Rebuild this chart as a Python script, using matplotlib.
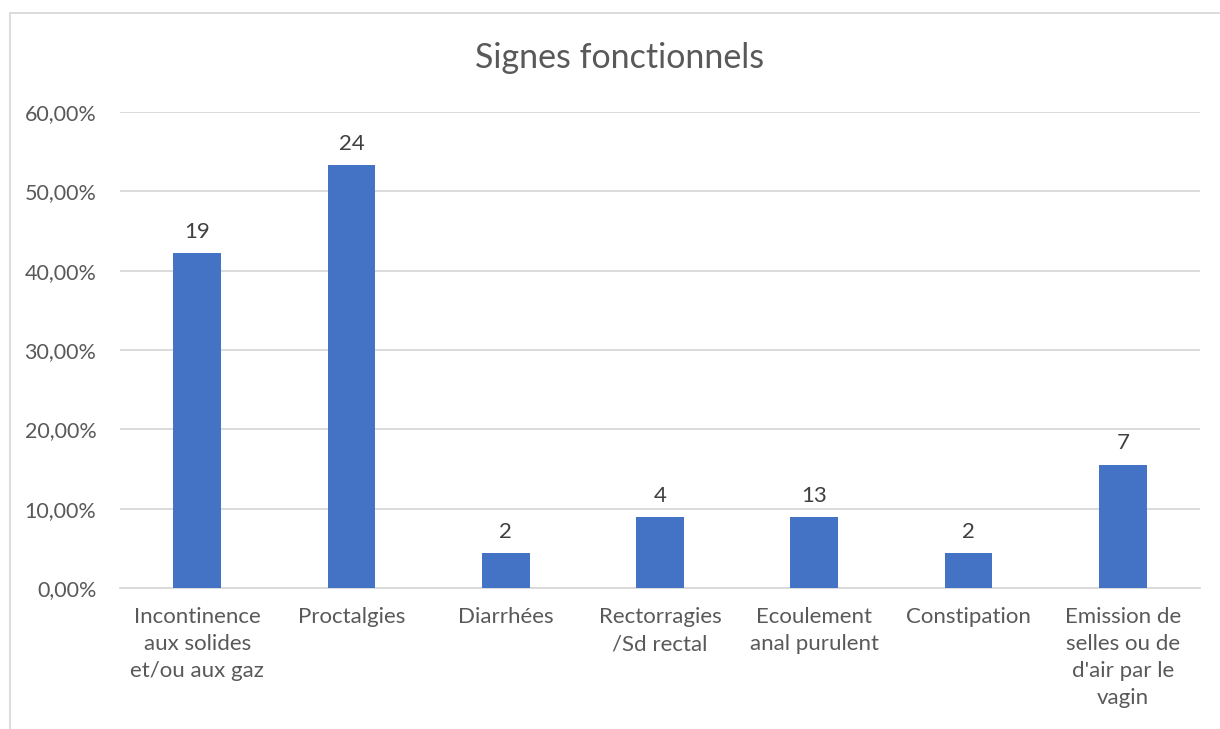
import matplotlib.pyplot as plt
from matplotlib.patches import Rectangle
from matplotlib.ticker import FuncFormatter

categories = [
    "Incontinence\naux solides\net/ou aux gaz",
    "Proctalgies",
    "Diarrhées",
    "Rectorragies\n/Sd rectal",
    "Ecoulement\nanal purulent",
    "Constipation",
    "Emission de\nselles ou de\nd'air par le\nvagin",
]
percentages = [42.22, 53.33, 4.44, 8.89, 8.89, 4.44, 15.56]
counts = [19, 24, 2, 4, 13, 2, 7]

plt.rcParams['font.family'] = ['Lato', 'DejaVu Sans']
text_color = '#595959'
grid_color = '#d9d9d9'

fig = plt.figure(figsize=(12.2, 7.29), dpi=100)
ax = fig.add_axes([120 / 1220, 141 / 729, 1080 / 1220, 476 / 729])

x = range(len(categories))
ax.bar(x, percentages, width=0.31, color='#4472C4', zorder=3)

for xi, p, c in zip(x, percentages, counts):
    ax.annotate(str(c), (xi, p), xytext=(0, 8), textcoords='offset points',
                ha='center', va='bottom', fontsize=16, color='#404040')

ax.set_xlim(-0.5, len(categories) - 0.5)
ax.set_ylim(0, 60)
ax.set_yticks(range(0, 61, 10))
ax.yaxis.set_major_formatter(FuncFormatter(lambda v, _: f"{v:.2f}%".replace('.', ',')))
ax.set_xticks(list(x))
ax.set_xticklabels(categories, linespacing=1.42)
ax.tick_params(axis='both', length=0, labelsize=16, labelcolor=text_color)
ax.tick_params(axis='x', pad=14)
ax.tick_params(axis='y', labelsize=15.5, pad=17)

ax.grid(axis='y', color=grid_color, linewidth=1.3, zorder=0)
for side in ['top', 'right', 'left']:
    ax.spines[side].set_visible(False)
ax.spines['bottom'].set_color(grid_color)
ax.spines['bottom'].set_linewidth(1.3)

fig.text(620 / 1220, 1 - 58 / 729, "Signes fonctionnels", ha='center', va='center',
         fontsize=24.5, color=text_color)

# cadre du graphique
fig.patches.append(Rectangle((10 / 1220, -0.05), 1.1, 1 - 13 / 729 + 0.05,
                             transform=fig.transFigure, fill=False,
                             edgecolor=grid_color, linewidth=1.3))

fig.savefig('out.png', dpi=100)
